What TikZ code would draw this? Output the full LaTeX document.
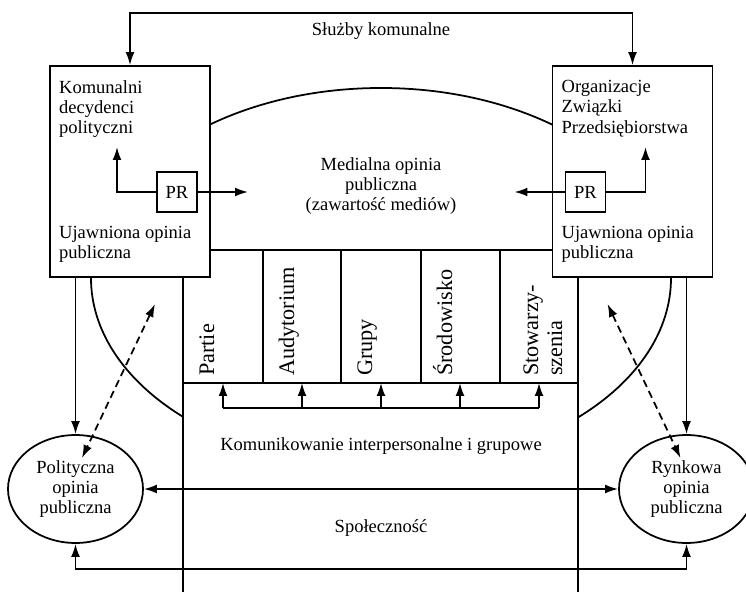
\documentclass[tikz,border=0pt]{standalone}
\usepackage{fontspec}
\setmainfont{Liberation Serif}
\usetikzlibrary{arrows.meta,shapes.geometric}

\tikzset{
    arr/.style={-{Latex[length=7pt,width=4.8pt]}},
    biarr/.style={{Latex[length=7pt,width=4.8pt]}-{Latex[length=7pt,width=4.8pt]}},
    txt/.style={font=\fontsize{10}{11}\selectfont, align=left},
    colname/.style={font=\fontsize{12}{13}\selectfont, align=left, rotate=90},
    panel/.style={draw, fill=white, minimum width=86.4pt, minimum height=113.9pt},
    prbox/.style={txt, draw, fill=white, minimum size=21.6pt, inner sep=0pt},
    opinion/.style={txt, align=center, ellipse, draw, fill=white, inner sep=0pt,
        minimum width=72.9pt, minimum height=58.3pt}
}

\begin{document}
\begin{tikzpicture}[x=0.54pt, y=-0.54pt, line width=0.95pt]
    \useasboundingbox (0, 0) rectangle (746, 592);
    \draw (381, 278) ellipse [x radius=156.6pt, y radius=102.6pt];
    \fill[white] (183, 250) rectangle (578, 592);
    \draw
        (183, 592) |- (578, 250) -- (578, 592)
        (183, 383) -- (578, 383)
        \foreach \x in {263, 341, 421, 500} {
            (\x, 250) -- (\x, 383)
        };
    \path
        \foreach \x/\t [count=\i] in {183/Partie, 263/Audytorium, 341/Grupy, 421/Środowisko} {
            (\x + 31, 383) node[colname, anchor=base west] (col\i) {\t}
        };
    \node[colname, anchor=south west] (col5) at (569.5, 383) {Stowarzy-\\szenia};
    \draw (223, 408) -- (539, 408);
    \foreach \x [count=\i] in {223, 302, 381, 460, 539} {
        \coordinate (foot\i) at (\x, 383);
        \draw[arr] (\x, 408) -- (foot\i);
    }
    \node[txt] (kig) at (381, 446) {Komunikowanie interpersonalne i grupowe};
    \node[txt] (spol) at (381, 528) {Społeczność};

    \node[panel] (lbox) at (130, 171.5) {};
    \node[panel] (rbox) at (632.5, 171.5) {};
    \node[txt, anchor=north west] (lhead) at ([shift={(3, 8)}]lbox.north west) {Komunalni\\decydenci\\polityczni};
    \node[txt, anchor=south west] (lfoot) at ([shift={(3, -8)}]lbox.south west) {Ujawniona opinia\\publiczna};
    \node[txt, anchor=north west] (rhead) at ([shift={(3, 8)}]rbox.north west) {Organizacje\\Związki\\Przedsiębiorstwa};
    \node[txt, anchor=south west] (rfoot) at ([shift={(3, -8)}]rbox.south west) {Ujawniona opinia\\publiczna};
    \node[prbox] (lpr) at (177, 192) {PR};
    \node[prbox] (rpr) at (585.5, 192) {PR};
    \coordinate (lup) at (117, 147);
    \coordinate (lout) at (248, 192);
    \coordinate (rup) at (645.5, 147);
    \coordinate (rout) at (514.5, 192);
    \draw[arr] (lpr.west) -| (lup);
    \draw[arr] (lpr.east) -- (lout);
    \draw[arr] (rpr.east) -| (rup);
    \draw[arr] (rpr.west) -- (rout);
    \node[txt, align=center] (media) at (381, 186) {Medialna opinia\\publiczna\\(zawartość mediów)};

    \coordinate (roof) at (381, 13);
    \node[txt] (sluzby) at (381, 31) {Służby komunalne};
    \draw[biarr] (lbox.north) |- (roof) -| (rbox.north);

    \node[opinion] (pol) at (75.5, 489) {Polityczna\\opinia\\publiczna};
    \node[opinion] (ryn) at (686.5, 489) {Rynkowa\\opinia\\publiczna};
    \draw[arr] (lbox.south -| pol.north) -- (pol.north);
    \draw[arr] (rbox.south -| ryn.north) -- (ryn.north);
    \draw[biarr] (pol.east) -- (ryn.west);
    \coordinate (floor) at (381, 569);
    \draw[biarr] (pol.south) |- (floor) -| (ryn.south);
    \coordinate (lmid) at (155, 304);
    \coordinate (lin) at (82, 458);
    \coordinate (rmid) at (607.5, 304);
    \coordinate (rin) at (680.5, 458);
    \draw[biarr, dash pattern=on 4pt off 2.5pt] (lmid) -- (lin);
    \draw[biarr, dash pattern=on 4pt off 2.5pt] (rmid) -- (rin);
\end{tikzpicture}
\end{document}
